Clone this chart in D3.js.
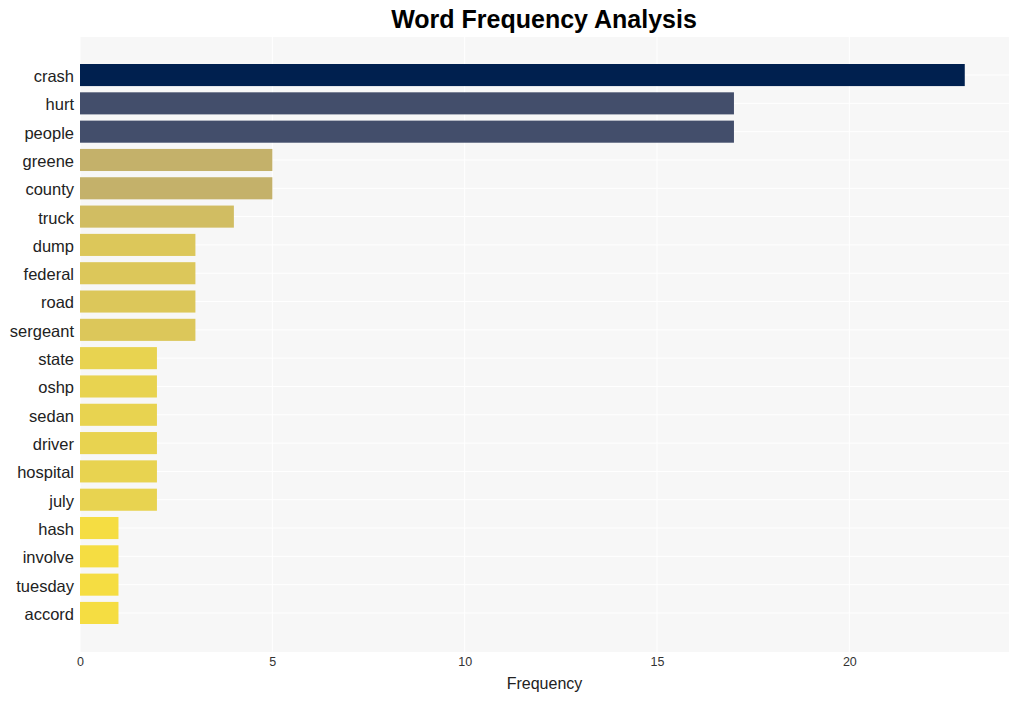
<!DOCTYPE html>
<html><head><meta charset="utf-8">
<script src="https://cdn.jsdelivr.net/npm/d3@7"></script>
<style>body{margin:0;background:#fff;font-family:"Liberation Sans",Arial,sans-serif;}</style>
</head><body><svg id="c" width="1019" height="701"></svg>
<script>
const words = ["crash","hurt","people","greene","county","truck","dump","federal","road","sergeant","state","oshp","sedan","driver","hospital","july","hash","involve","tuesday","accord"];
const counts = [23,17,17,5,5,4,3,3,3,3,2,2,2,2,2,2,1,1,1,1];
const colorByCount = {23:"#00204f",17:"#434e6b",5:"#c4b16a",4:"#d1bd62",3:"#dcc75a",2:"#e8d350",1:"#f5dd42"};
const xTicks = [0,5,10,15,20];

const svg = d3.select("#c");
const L=80,R=1009,T=37,B=652;
svg.append("rect").attr("x",L).attr("y",T).attr("width",R-L).attr("height",B-T).attr("fill","#f7f7f7");
const x = d3.scaleLinear().domain([0,d3.max(counts)*1.05]).range([L,R]);
const y = d3.scaleBand().domain(words).range([64,624]).paddingInner(0.22).paddingOuter(0);

svg.append("g").selectAll("line").data(xTicks).join("line")
 .attr("x1",d=>x(d)).attr("x2",d=>x(d)).attr("y1",T).attr("y2",B)
 .attr("stroke","#fff").attr("stroke-width",1);
svg.append("g").selectAll("line").data(words).join("line")
 .attr("x1",L).attr("x2",R).attr("y1",d=>y(d)+y.bandwidth()/2).attr("y2",d=>y(d)+y.bandwidth()/2)
 .attr("stroke","#fff").attr("stroke-width",1);

svg.append("g").selectAll("rect").data(words).join("rect")
 .attr("x",x(0)).attr("y",d=>y(d)).attr("height",y.bandwidth())
 .attr("width",(d,i)=>x(counts[i])-x(0)).attr("fill",(d,i)=>colorByCount[counts[i]]);

const xa = svg.append("g").attr("transform",`translate(0,${B})`)
 .call(d3.axisBottom(x).tickValues(xTicks).tickSize(0).tickPadding(5));
xa.select(".domain").remove();
xa.selectAll("text").attr("font-size",12.5).attr("fill","#333").attr("font-family","Liberation Sans, Arial, sans-serif");

const ya = svg.append("g").attr("transform",`translate(${L},0)`)
 .call(d3.axisLeft(y).tickSize(0).tickPadding(6));
ya.select(".domain").remove();
ya.selectAll("text").attr("font-size",16.5).attr("dy","0.42em").attr("fill","#222").attr("font-family","Liberation Sans, Arial, sans-serif");

svg.append("text").attr("x",(L+R)/2).attr("y",689).attr("text-anchor","middle")
 .attr("font-size",16).attr("fill","#222").text("Frequency");
svg.append("text").attr("x",544).attr("y",28).attr("text-anchor","middle")
 .attr("font-size",25).attr("font-weight","bold").attr("fill","#000").text("Word Frequency Analysis");
</script></body></html>
